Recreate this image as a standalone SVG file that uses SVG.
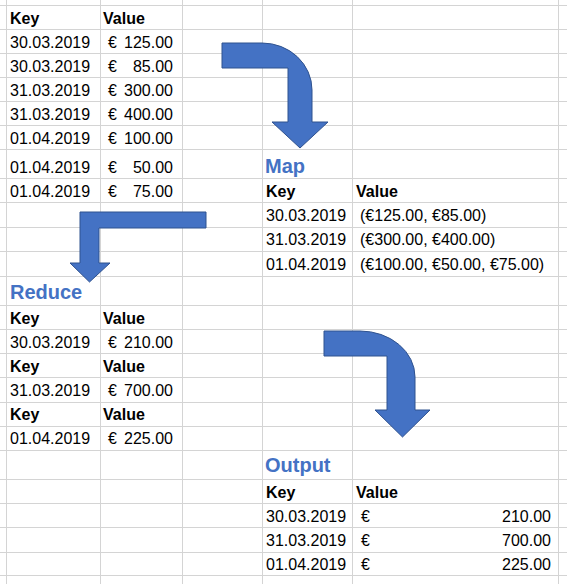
<svg xmlns="http://www.w3.org/2000/svg" width="567" height="584" viewBox="0 0 567 584">
<style>
.g{stroke:#d4d4d4;stroke-width:1}
text{font-family:"Liberation Sans",Arial,sans-serif;font-size:16px;fill:#000}
.b{font-weight:bold}
.t{font-weight:bold;font-size:20px;fill:#4472C4}
.e{text-anchor:end}
.arr{fill:#4472C4;stroke:#2F528F;stroke-width:1}
</style>
<rect width="567" height="584" fill="#fff"/>
<g id="grid">
<g class="g">
<line x1="0" y1="5.5" x2="567" y2="5.5"/><line x1="0" y1="29.5" x2="567" y2="29.5"/><line x1="0" y1="53.5" x2="567" y2="53.5"/><line x1="0" y1="77.5" x2="567" y2="77.5"/><line x1="0" y1="101.5" x2="567" y2="101.5"/><line x1="0" y1="125.5" x2="567" y2="125.5"/><line x1="0" y1="149.5" x2="567" y2="149.5"/><line x1="0" y1="178.5" x2="567" y2="178.5"/><line x1="0" y1="202.5" x2="567" y2="202.5"/><line x1="0" y1="227.5" x2="567" y2="227.5"/><line x1="0" y1="251.5" x2="567" y2="251.5"/><line x1="0" y1="276.5" x2="567" y2="276.5"/><line x1="0" y1="305.5" x2="567" y2="305.5"/><line x1="0" y1="329.5" x2="567" y2="329.5"/><line x1="0" y1="353.5" x2="567" y2="353.5"/><line x1="0" y1="377.5" x2="567" y2="377.5"/><line x1="0" y1="402.5" x2="567" y2="402.5"/><line x1="0" y1="426.5" x2="567" y2="426.5"/><line x1="0" y1="450.5" x2="567" y2="450.5"/><line x1="0" y1="479.5" x2="567" y2="479.5"/><line x1="0" y1="503.5" x2="567" y2="503.5"/><line x1="0" y1="527.5" x2="567" y2="527.5"/><line x1="0" y1="552.5" x2="567" y2="552.5"/><line x1="0" y1="575.5" x2="567" y2="575.5"/>
<line x1="6.5" y1="0" x2="6.5" y2="584"/><line x1="100.5" y1="0" x2="100.5" y2="584"/><line x1="182.5" y1="0" x2="182.5" y2="584"/><line x1="262.5" y1="0" x2="262.5" y2="584"/><line x1="352.5" y1="0" x2="352.5" y2="584"/><line x1="558.5" y1="0" x2="558.5" y2="584"/>
</g>
</g>
<g id="input">
<text class="b" x="10" y="24">Key</text><text class="b" x="103" y="24">Value</text>
<text x="10" y="48">30.03.2019</text><text x="108" y="48">€</text><text class="e" x="173" y="48">125.00</text>
<text x="10" y="72">30.03.2019</text><text x="108" y="72">€</text><text class="e" x="173" y="72">85.00</text>
<text x="10" y="96">31.03.2019</text><text x="108" y="96">€</text><text class="e" x="173" y="96">300.00</text>
<text x="10" y="120">31.03.2019</text><text x="108" y="120">€</text><text class="e" x="173" y="120">400.00</text>
<text x="10" y="144">01.04.2019</text><text x="108" y="144">€</text><text class="e" x="173" y="144">100.00</text>
<text x="10" y="173">01.04.2019</text><text x="108" y="173">€</text><text class="e" x="173" y="173">50.00</text>
<text x="10" y="197">01.04.2019</text><text x="108" y="197">€</text><text class="e" x="173" y="197">75.00</text>
</g>
<g id="map">
<text class="t" x="265" y="173">Map</text>
<text class="b" x="266" y="197">Key</text><text class="b" x="356" y="197">Value</text>
<text x="266" y="221">30.03.2019</text><text x="360" y="221">(€125.00, €85.00)</text>
<text x="266" y="245">31.03.2019</text><text x="360" y="245">(€300.00, €400.00)</text>
<text x="266" y="270">01.04.2019</text><text x="360" y="270">(€100.00, €50.00, €75.00)</text>
</g>
<g id="reduce">
<text class="t" x="10" y="299">Reduce</text>
<text class="b" x="10" y="324">Key</text><text class="b" x="103" y="324">Value</text>
<text x="10" y="348">30.03.2019</text><text x="108" y="348">€</text><text class="e" x="173" y="348">210.00</text>
<text class="b" x="10" y="372">Key</text><text class="b" x="103" y="372">Value</text>
<text x="10" y="396">31.03.2019</text><text x="108" y="396">€</text><text class="e" x="173" y="396">700.00</text>
<text class="b" x="10" y="420">Key</text><text class="b" x="103" y="420">Value</text>
<text x="10" y="444">01.04.2019</text><text x="108" y="444">€</text><text class="e" x="173" y="444">225.00</text>
</g>
<g id="output">
<text class="t" x="265" y="472">Output</text>
<text class="b" x="266" y="498">Key</text><text class="b" x="356" y="498">Value</text>
<text x="266" y="522">30.03.2019</text><text x="361" y="522">€</text><text class="e" x="551" y="522">210.00</text>
<text x="266" y="546">31.03.2019</text><text x="361" y="546">€</text><text class="e" x="551" y="546">700.00</text>
<text x="266" y="570">01.04.2019</text><text x="361" y="570">€</text><text class="e" x="551" y="570">225.00</text>
</g>
<g id="connectors">
<path class="arr" d="M222,43 L262,43 A50,47 0 0 1 312,90 L312,122 L328,122 L300,148 L272,122 L288,122 L288,68 L222,68 Z"/>
<path class="arr" d="M206,212 L80,212 L80,263 L70,263 L89.5,282 L110,263 L99,263 L99,228 L206,228 Z"/>
<path class="arr" d="M324,331 L360,331 A55,46 0 0 1 415,377 L415,410 L430,410 L402.5,437 L375,410 L387,410 L387,356 L324,356 Z"/>
</g>
</svg>
